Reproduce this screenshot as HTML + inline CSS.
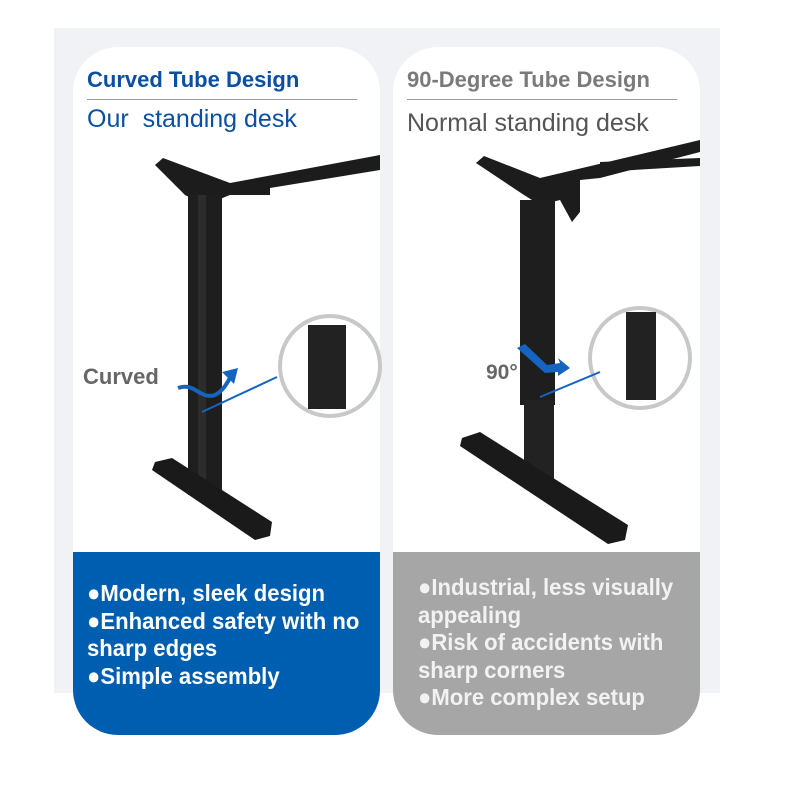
<!DOCTYPE html>
<html><head><meta charset="utf-8"><style>
html,body{margin:0;padding:0;background:#fff;width:800px;height:800px;overflow:hidden;font-family:"Liberation Sans",Arial,sans-serif}
.panel{position:absolute;left:54px;top:28px;width:666px;height:665px;background:#f1f2f6}
.card{position:absolute;top:47px;width:307px;height:688px;background:#fff;border-radius:45px;overflow:hidden}
.bot{position:absolute;left:0;top:505px;width:100%;height:183px}
.t1{position:absolute;left:14px;top:20px;font-weight:bold;font-size:22px;white-space:nowrap}
.hr{position:absolute;left:14px;top:52px;width:270px;height:1px;background:#999}
.t2{position:absolute;left:14px;top:58px;font-size:25px;white-space:nowrap}
.list{position:absolute;left:14px;font-weight:bold;font-size:23.5px;line-height:27.5px;color:#fff;transform:scaleX(0.94);transform-origin:0 0;white-space:nowrap}
</style></head><body>
<div class="panel"></div>
<div class="card" style="left:73px">
  <div class="t1" style="color:#0b4fa3">Curved Tube Design</div>
  <div class="hr"></div>
  <div class="t2" style="color:#0b4fa3">Our&nbsp; standing desk</div>
  <div class="bot" style="background:#005eb0">
    <div class="list" style="top:28px">●Modern, sleek design<br>●Enhanced safety with no<br>sharp edges<br>●Simple assembly</div>
  </div>
</div>
<div class="card" style="left:393px">
  <div class="t1" style="color:#7a7a7a">90-Degree Tube Design</div>
  <div class="hr"></div>
  <div class="t2" style="color:#555;top:62px">Normal standing desk</div>
  <div class="bot" style="background:#a6a6a6">
    <div class="list" style="top:22px;left:25px;color:#f2f2f2">●Industrial, less visually<br>appealing<br>●Risk of accidents with<br>sharp corners<br>●More complex setup</div>
  </div>
</div>
<svg width="800" height="800" style="position:absolute;left:0;top:0">
  <polygon points="155,165 163,158 230,183 380,155 380,170 270,188 270,195 230,195 205,205 185,195" fill="#1c1c1c"/>
  <rect x="188" y="195" width="34" height="300" fill="#1e1e1e"/>
  <rect x="198" y="195" width="8" height="300" fill="#2c2c2c"/>
  <polygon points="155,462 172,458 272,522 270,536 255,540 152,470" fill="#1a1a1a"/>
  <circle cx="330" cy="366" r="50" fill="#fff" stroke="#c8c8c8" stroke-width="4"/>
  <rect x="308" y="325" width="38" height="84" fill="#222"/>
  <line x1="202" y1="412" x2="277" y2="377" stroke="#1565c0" stroke-width="2"/>
  <path d="M178,388 C195,382 200,400 215,395 C225,390 228,380 232,375" fill="none" stroke="#1565c0" stroke-width="4"/>
  <polygon points="238,368 222,372 234,384" fill="#1565c0"/>
  <text x="83" y="384" font-family="Liberation Sans,sans-serif" font-weight="bold" font-size="22" fill="#666">Curved</text>
  <polygon points="476,163 484,156 540,178 700,140 700,152 600,178 580,180 580,212 572,222 560,200 540,205 524,195" fill="#1c1c1c"/>
  <polygon points="600,162 700,158 700,166 600,172" fill="#1c1c1c"/>
  <rect x="520" y="200" width="35" height="205" fill="#1e1e1e"/>
  <rect x="524" y="400" width="30" height="80" fill="#222"/>
  <polygon points="462,438 480,432 628,525 625,540 608,544 460,446" fill="#1a1a1a"/>
  <circle cx="640" cy="358" r="50" fill="#fff" stroke="#c8c8c8" stroke-width="4"/>
  <rect x="626" y="312" width="30" height="88" fill="#222"/>
  <line x1="540" y1="397" x2="600" y2="372" stroke="#1565c0" stroke-width="2"/>
  <polygon points="517,348 525,344 547,365 560,363 558,358 570,368 558,376 558,372 545,373" fill="#1565c0"/>
  <text x="486" y="379" font-family="Liberation Sans,sans-serif" font-weight="bold" font-size="21" fill="#666">90°</text>
</svg>
</body></html>
